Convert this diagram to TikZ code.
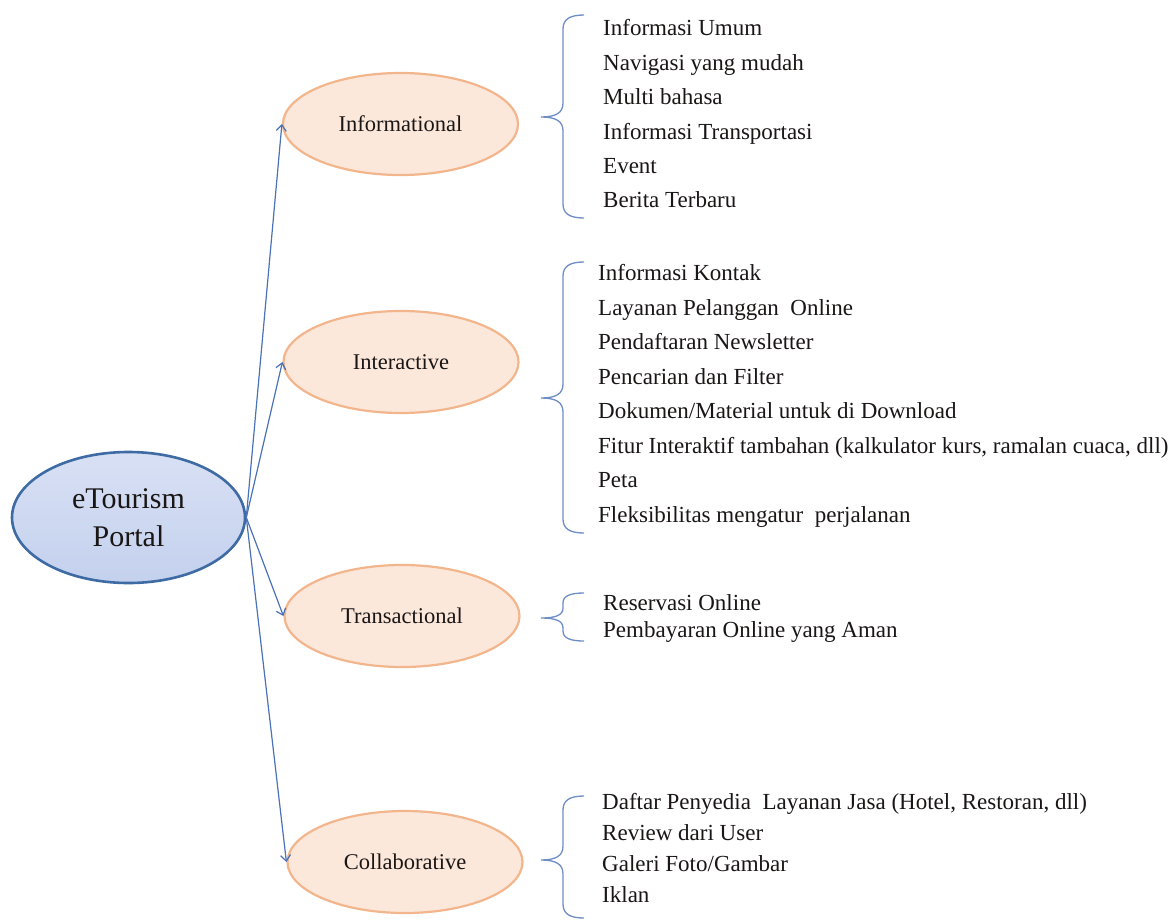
\documentclass[tikz,border=0pt]{standalone}
\usepackage{fontspec}
\setmainfont{Liberation Serif}
\usetikzlibrary{shapes.geometric,arrows.meta}

\definecolor{portalfillA}{HTML}{D8E0F4}
\definecolor{portalfillB}{HTML}{C4D1EE}
\definecolor{portaldraw}{HTML}{3E6BA3}
\definecolor{catfill}{HTML}{FCE8DB}
\definecolor{catdraw}{HTML}{F2B58C}
\definecolor{linkblue}{HTML}{4A72B8}
\definecolor{bracecol}{HTML}{6F8DC6}
\definecolor{inktext}{HTML}{1A1616}

% Word-style left curly brace: top, middle tip, bottom, corner radius
\newcommand\WordBrace[4]{%
  \draw[brace] (584,#1) .. controls (570,#1) and (563,#1+#4*0.3) .. (563,#1+#4)
    -- (563,#2-#4)
    .. controls (563,#2-#4*0.3) and (556,#2) .. (541,#2)
    .. controls (556,#2) and (563,#2+#4*0.3) .. (563,#2+#4)
    -- (563,#3-#4)
    .. controls (563,#3-#4*0.3) and (570,#3) .. (584,#3);}

\begin{document}
\begin{tikzpicture}[x=1pt,y=-1pt,
  portal/.style={ellipse, draw=portaldraw, line width=2.6pt,
    top color=portalfillA, bottom color=portalfillB,
    minimum width=233pt, minimum height=131pt, inner sep=0pt,
    align=center, text=inktext, font=\fontsize{30}{38}\selectfont},
  category/.style={ellipse, draw=catdraw, line width=2.2pt, fill=catfill,
    minimum width=235pt, minimum height=102pt, inner sep=0pt,
    text=inktext, font=\fontsize{22.5}{26}\selectfont},
  itemlist/.style={anchor=west, inner sep=0pt, align=left, text=inktext},
  link/.style={draw=linkblue, line width=1.2pt,
    -{Straight Barb[length=6pt,width=10pt,line width=1.2pt]}},
  brace/.style={draw=bracecol, line width=1.3pt}]

\useasboundingbox (0,0) rectangle (1175,921);
\fill[white] (0,0) rectangle (1175,921);

% hub and the four categories
\node[portal] (portal) at (128.5,517.5) {eTourism\\Portal};
\node[category] (info) at (400.5,124) {Informational};
\node[category] (inter) at (401,362) {Interactive};
\node[category] (trans) at (402,616) {Transactional};
\node[category] (collab) at (405,862) {Collaborative};

% links from the hub
\draw[link] (portal.east) -- (info.west);
\draw[link] (portal.east) -- (inter.west);
\draw[link] (portal.east) -- (trans.west);
\draw[link] (portal.east) -- (collab.west);

% feature lists
\node[itemlist, font=\fontsize{23}{34.4}\selectfont] (infolist) at (603,114)
  {Informasi Umum\\Navigasi yang mudah\\Multi bahasa\\Informasi Transportasi\\Event\\Berita Terbaru};
\node[itemlist, font=\fontsize{23}{34.5}\selectfont] (interlist) at (598,396)
  {Informasi Kontak\\Layanan Pelanggan\ \ Online\\Pendaftaran Newsletter\\Pencarian dan Filter\\Dokumen/Material untuk di Download\\Fitur Interaktif tambahan (kalkulator kurs, ramalan cuaca, dll)\\Peta\\Fleksibilitas mengatur\ \ perjalanan};
\node[itemlist, font=\fontsize{23}{27}\selectfont] (translist) at (603,618.5)
  {Reservasi Online\\Pembayaran Online yang Aman};
\node[itemlist, font=\fontsize{23}{31}\selectfont] (collablist) at (602,848.5)
  {Daftar Penyedia\ \ Layanan Jasa (Hotel, Restoran, dll)\\Review dari User\\Galeri Foto/Gambar\\Iklan};

% braces grouping each list
\WordBrace{15}{117}{218}{14}
\WordBrace{262}{398}{533}{14}
\WordBrace{593}{618}{641}{10}
\WordBrace{796}{860}{918}{14}

\end{tikzpicture}
\end{document}
